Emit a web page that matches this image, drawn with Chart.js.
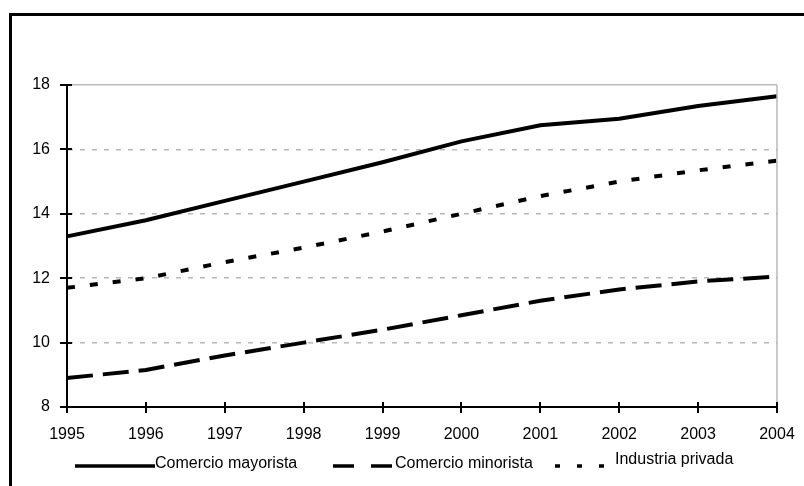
<!DOCTYPE html>
<html><head><meta charset="utf-8">
<script src="https://cdn.jsdelivr.net/npm/chart.js@4"></script>
<style>html,body{margin:0;padding:0;background:#fff;}#wrap{width:804px;height:486px;position:relative;}</style>
</head><body><div id="wrap"><canvas id="c" width="804" height="486"></canvas></div>
<script>
const years = ['1995','1996','1997','1998','1999','2000','2001','2002','2003','2004'];
const comercioMayorista = [13.3,13.8,14.4,15.0,15.6,16.25,16.75,16.95,17.35,17.65];
const comercioMinorista = [8.9,9.15,9.6,10.0,10.4,10.85,11.3,11.65,11.9,12.05];
const industriaPrivada = [11.7,12.0,12.5,12.95,13.45,14.0,14.55,15.0,15.35,15.65];
const seriesNames = ['Comercio mayorista','Comercio minorista','Industria privada'];
const yMin = 8, yMax = 18, yStep = 2;

const FONT = '"Liberation Sans", Arial, sans-serif';

const frameAndTicks = {
  id: 'frameAndTicks',
  afterDraw(chart) {
    const ctx = chart.ctx, a = chart.chartArea;
    const xs = chart.scales.x, ys = chart.scales.y;
    ctx.save();
    // outer page border (top & left)
    ctx.strokeStyle = '#000'; ctx.lineWidth = 3; ctx.setLineDash([]);
    ctx.beginPath(); ctx.moveTo(10.5, 486); ctx.lineTo(10.5, 14.5); ctx.lineTo(804, 14.5); ctx.stroke();
    // plot area right border
    ctx.strokeStyle = '#b8b8b8'; ctx.lineWidth = 1.5;
    ctx.beginPath(); ctx.moveTo(a.right, a.top); ctx.lineTo(a.right, a.bottom); ctx.stroke();
    // crossing tick marks
    ctx.strokeStyle = '#000'; ctx.lineWidth = 2;
    ys.ticks.forEach(t => {
      const y = Math.round(ys.getPixelForValue(t.value));
      ctx.beginPath(); ctx.moveTo(a.left - 7, y); ctx.lineTo(a.left + 5, y); ctx.stroke();
    });
    years.forEach((yr, i) => {
      const x = Math.round(xs.getPixelForValue(i));
      ctx.beginPath(); ctx.moveTo(x, a.bottom - 5); ctx.lineTo(x, a.bottom + 6); ctx.stroke();
    });
    // legend
    const legend = [
      {x0: 75, x1: 155, dash: [], tx: 155, ty: 464},
      {x0: 333, x1: 395, dash: [21, 17], tx: 395, ty: 464},
      {x0: 555, x1: 606, dash: [5, 17], tx: 615, ty: 460}
    ];
    ctx.font = '16px ' + FONT; ctx.fillStyle = '#000'; ctx.textBaseline = 'middle'; ctx.textAlign = 'left';
    legend.forEach((l, i) => {
      ctx.setLineDash(l.dash); ctx.lineWidth = 3.5; ctx.strokeStyle = '#000';
      ctx.beginPath(); ctx.moveTo(l.x0, 466); ctx.lineTo(l.x1, 466); ctx.stroke();
      ctx.setLineDash([]);
      ctx.fillText(seriesNames[i], l.tx, l.ty);
    });
    ctx.restore();
  }
};

new Chart(document.getElementById('c'), {
  type: 'line',
  data: {
    labels: years,
    datasets: [
      {label: seriesNames[0], data: comercioMayorista, borderColor: '#000', borderWidth: 4, borderDash: [], pointRadius: 0, tension: 0, fill: false},
      {label: seriesNames[1], data: comercioMinorista, borderColor: '#000', borderWidth: 4, borderDash: [26, 10], pointRadius: 0, tension: 0, fill: false},
      {label: seriesNames[2], data: industriaPrivada, borderColor: '#000', borderWidth: 4, borderDash: [8, 15], pointRadius: 0, tension: 0, fill: false}
    ]
  },
  options: {
    responsive: false, animation: false, devicePixelRatio: 1,
    layout: {padding: {top: 85, right: 27, left: 0, bottom: 0}},
    plugins: {legend: {display: false}, tooltip: {enabled: false}},
    scales: {
      x: {
        grid: {display: true, drawOnChartArea: false, drawTicks: true, tickLength: 16, color: 'rgba(0,0,0,0)'},
        border: {display: true, color: '#000', width: 2},
        ticks: {color: '#000', font: {family: FONT, size: 16}, padding: 2, maxRotation: 0, autoSkip: false},
        afterFit(s) { s.height = 79; }
      },
      y: {
        min: yMin, max: yMax,
        grid: {drawTicks: false, lineWidth: 1.5,
          color: c => (c.tick && c.tick.value === yMin) ? 'rgba(0,0,0,0)' : '#b8b8b8'},
        border: {display: true, color: '#000', width: 2,
          dash: c => c.tick ? (c.tick.value === yMax ? [] : [5, 7]) : []},
        ticks: {stepSize: yStep, color: '#000', font: {family: FONT, size: 16}, padding: 17},
        afterFit(s) { s.width = 67; }
      }
    }
  },
  plugins: [frameAndTicks]
});
</script></body></html>
